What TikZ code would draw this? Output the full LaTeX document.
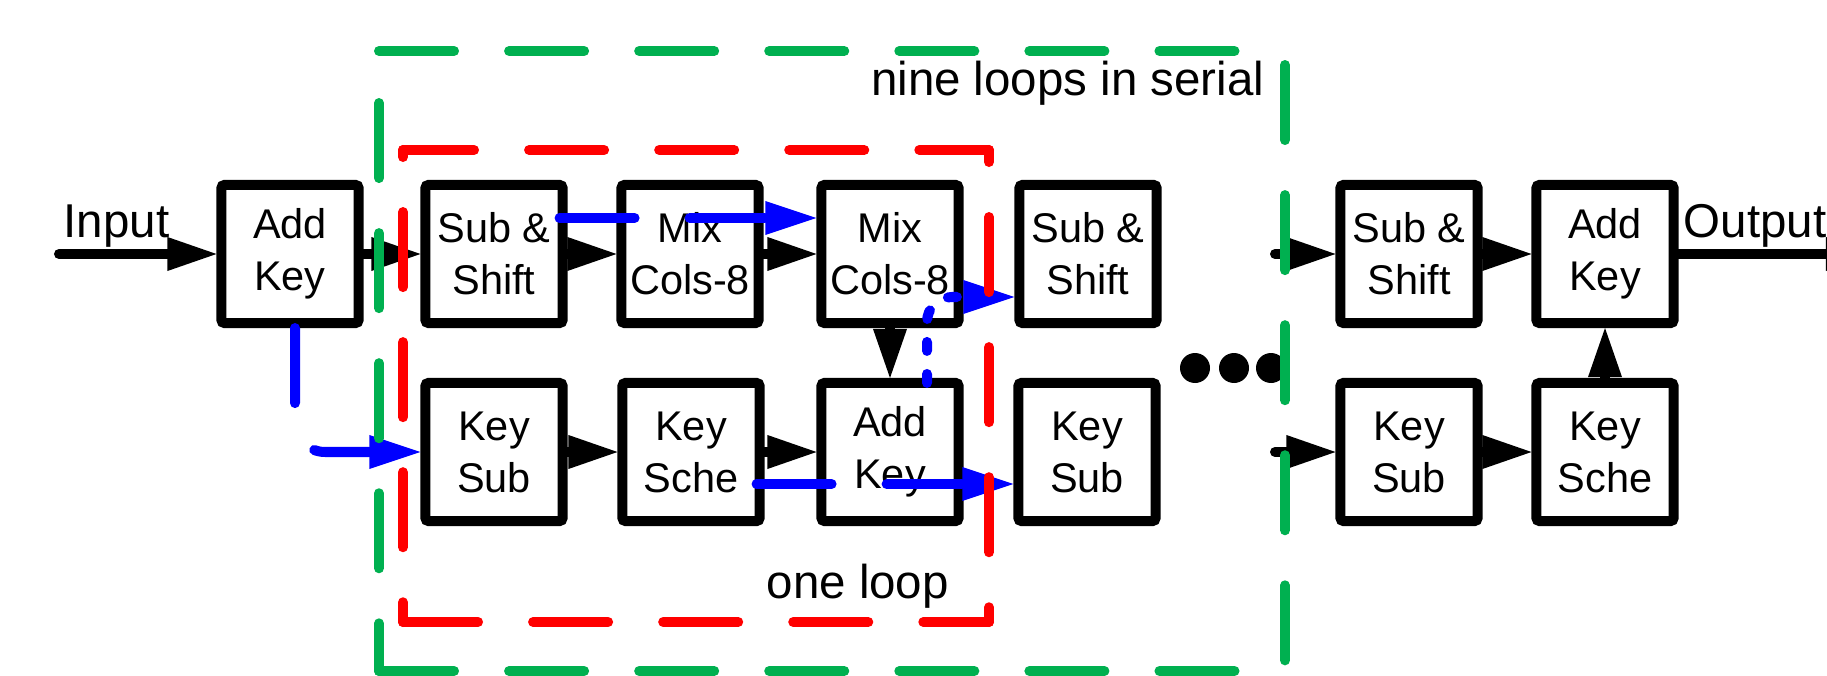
\documentclass[tikz,border=0pt]{standalone}
\usepackage{fontspec}
\setmainfont{Liberation Sans}
\usetikzlibrary{arrows.meta}
\definecolor{pptgreen}{RGB}{0,176,80}
\tikzset{
  blk/.style = {draw, line width=0.1cm, fill=white, rounded corners=0.03cm,
    minimum width=1.37cm, minimum height=1.38cm, inner sep=0pt,
    align=center, font=\fontsize{11.8}{14.8}\selectfont},
  lbl/.style = {inner sep=0pt, font=\fontsize{13.5}{16}\selectfont},
  flow/.style = {line width=0.1cm, line cap=round,
    -{Triangle[length=0.49cm, width=0.34cm, line width=0pt]}},
  keyflow/.style = {blue, line width=0.1cm, line cap=round,
    dash pattern=on 0.75cm off 0.55cm,
    -{Triangle[length=0.51cm, width=0.34cm, line width=0pt]}},
  loopline/.style = {red, line width=0.1cm, line cap=round,
    dash pattern=on 0.75cm off 0.55cm},
  serialline/.style = {pptgreen, line width=0.1cm, line cap=round,
    dash pattern=on 0.75cm off 0.55cm}
}
\begin{document}
\begin{tikzpicture}[x=0.01cm, y=-0.01cm]
  \useasboundingbox (0,0) rectangle (1827,676);

  \node[blk] (addkey1) at (290,254) {Add\\Key};
  \node[blk] (sub1) at (494,254) {Sub \&\\Shift};
  \node[blk] (mix1) at (690,254) {Mix\\Cols-8};
  \node[blk] (mix2) at (890,254) {Mix\\Cols-8};
  \node[blk] (sub2) at (1088,254) {Sub \&\\Shift};
  \node[blk] (keysub1) at (494,452) {Key\\Sub};
  \node[blk] (sche1) at (691,452) {Key\\Sche};
  \node[blk] (addkey2) at (890,452) {Add\\Key};
  \node[blk] (keysub2) at (1087,452) {Key\\Sub};
  \node[blk] (sub3) at (1409,254) {Sub \&\\Shift};
  \node[blk] (addkey3) at (1605,254) {Add\\Key};
  \node[blk] (keysub3) at (1409,452) {Key\\Sub};
  \node[blk] (sche3) at (1605,452) {Key\\Sche};

  \node[lbl, anchor=base west] (input) at (63,238) {Input};
  \node[lbl, anchor=base west] (output) at (1683,238) {Output};
  \node[lbl, anchor=base east] (nine) at (1265,96) {nine loops in serial};
  \node[lbl, anchor=base west] (one) at (766,598) {one loop};

  \coordinate (src) at (59,254);
  \coordinate (snk) at (1875,254);
  \coordinate (next1) at (1275,254);
  \coordinate (next2) at (1275,452);

  \draw[flow] (src) -- (addkey1);
  \draw[flow] (addkey1) -- (sub1);
  \draw[flow] (sub1) -- (mix1);
  \draw[flow] (mix1) -- (mix2);
  \draw[flow] (mix2) -- (addkey2);
  \draw[flow] (keysub1) -- (sche1);
  \draw[flow] (sche1) -- (addkey2);
  \draw[flow] (next1) -- (sub3);
  \draw[flow] (next2) -- (keysub3);
  \draw[flow] (sub3) -- (addkey3);
  \draw[flow] (keysub3) -- (sche3);
  \draw[flow] (sche3) -- (addkey3);
  \draw[flow] (addkey3) -- (snk);

  \draw[keyflow, rounded corners=0.3cm] ([shift={(5,0)}]addkey1.south) |- (keysub1.west);
  \draw[keyflow] ([shift={(-8,-36)}]sub1.east) -- ([shift={(0,-36)}]mix2.west);
  \draw[keyflow] ([shift={(-8,32)}]sche1.east) -- ([shift={(0,32)}]keysub2.west);
  \draw[keyflow, dash pattern=on 0.09cm off 0.23cm, rounded corners=0.25cm]
    ([shift={(37,5)}]addkey2.north) |- ([shift={(0,43)}]sub2.west);

  \fill (1195,368) circle [radius=15];
  \fill (1234,368) circle [radius=15];
  \fill (1271,368) circle [radius=15];

  % one loop
  \coordinate (rtl) at (403,150);
  \coordinate (rtr) at (989,150);
  \coordinate (rbl) at (403,622);
  \coordinate (rbr) at (989,622);
  \draw[loopline, dash phase=0.04cm] (rtl) -- (rtr);
  \draw[loopline] (rbl) -- (rbr);
  \draw[loopline, dash phase=0.68cm] (rtl) -- (rbl);
  \draw[loopline, dash phase=0.63cm] (rtr) -- (rbr);

  % nine loops
  \coordinate (gtl) at (379,51);
  \coordinate (gtr) at (1285,51);
  \coordinate (gbl) at (379,671);
  \coordinate (gbr) at (1285,671);
  \draw[serialline] (gtl) -- (gtr);
  \draw[serialline] (gbl) -- (gbr);
  \draw[serialline, dash phase=0.78cm] (gtl) -- (gbl);
  \draw[serialline, dash phase=1.16cm] (gtr) -- (gbr);
\end{tikzpicture}
\end{document}
